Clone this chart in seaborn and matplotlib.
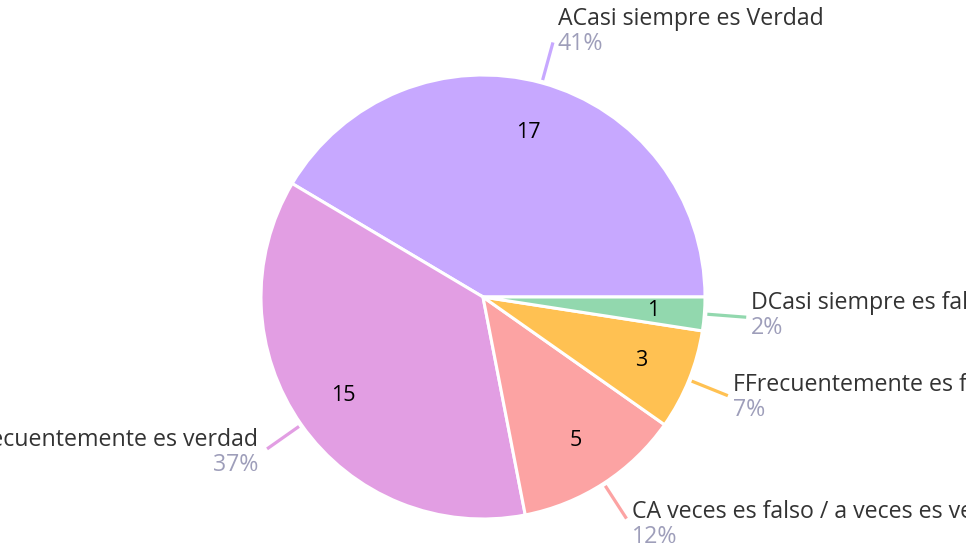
import numpy as np
import matplotlib
matplotlib.use("Agg")
import matplotlib.pyplot as plt
import seaborn as sns

categories = ["ACasi siempre es Verdad", "BFrecuentemente es verdad",
              "CA veces es falso / a veces es verdad", "FFrecuentemente es falso",
              "DCasi siempre es falso"]
values = [17, 15, 5, 3, 1]
colors = ["#C7A8FF", "#E29EE3", "#FCA3A3", "#FFC152", "#92D8AE"]

sns.set_theme(style="white")
plt.rcParams['font.family'] = ['Open Sans', 'DejaVu Sans']

W, H = 966, 544
fig = plt.figure(figsize=(W / 100, H / 100), dpi=100)
ax = fig.add_axes([0, 0, 1, 1])
total = sum(values)
cx, cy, R = 483, 247, 222

wedges, _, autotexts = ax.pie(
    values, colors=colors, startangle=0, counterclock=True,
    radius=R, center=(cx, cy),
    wedgeprops=dict(edgecolor="white", linewidth=2.2),
    autopct=lambda p: f"{round(p * total / 100)}", pctdistance=0.77,
    textprops=dict(fontsize=15.5, color="black"))

for w, name, v, col in zip(wedges, categories, values, colors):
    a = np.deg2rad((w.theta1 + w.theta2) / 2)
    ca, sa = np.cos(a), np.sin(a)
    x0, y0 = cx + 225 * ca, cy + 225 * sa
    x1, y1 = cx + 264 * ca, cy + 264 * sa
    ax.plot([x0, x1], [y0, y1], color=col, lw=2.3, solid_capstyle="butt", zorder=0)
    center = y1 + 4 + 9 * sa
    if ca >= 0:
        tx, ha = x1 + 5, "left"
    else:
        tx, ha = x1 - 9, "right"
    ax.text(tx, center + 12.5 - 8, name, ha=ha, va="baseline",
            fontsize=16.7, color="#333333")
    ax.text(tx, center - 12.5 - 8, f"{round(v / total * 100)}%", ha=ha,
            va="baseline", fontsize=16.7, color="#9E9EBA")

ax.set_xlim(0, W)
ax.set_ylim(0, H)
ax.set_aspect("equal")
ax.axis("off")
fig.savefig("out.png", dpi=100)
